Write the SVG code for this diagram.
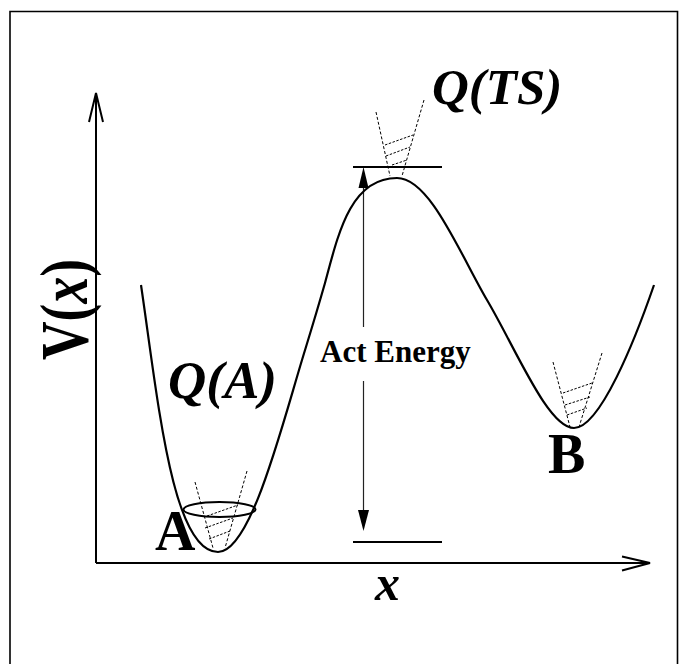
<svg xmlns="http://www.w3.org/2000/svg" width="687" height="664" viewBox="0 0 687 664">
<style>
.frame{fill:none;stroke:#000;stroke-width:1.6}
.axis{fill:none;stroke:#000;stroke-width:2}
.curve{fill:none;stroke:#000;stroke-width:2.2}
.dash{fill:none;stroke:#000;stroke-width:1;stroke-dasharray:3 2}
.hatch{fill:none;stroke:#000;stroke-width:1;stroke-dasharray:2.5 1.5}
.lvl{fill:none;stroke:#000;stroke-width:2}
.thin{fill:none;stroke:#222;stroke-width:1.2}
.head{fill:#000;stroke:none}
.lbl{font-family:"Liberation Serif","Times New Roman",serif;font-weight:bold;fill:#000}
.it{font-style:italic}
</style>
<rect width="687" height="664" fill="#fff"/>
<path class="frame" d="M10,664 V11.5 H677.5 V664"/>
<g id="connectors">
  <g id="y-axis">
    <line class="axis" x1="96" y1="94" x2="96" y2="563"/>
    <polyline class="axis" points="89,122 96,93 103,122"/>
  </g>
  <g id="x-axis">
    <line class="axis" x1="96" y1="563" x2="649" y2="563"/>
    <polyline class="axis" points="622,556.5 650,563 622,570.5"/>
  </g>
  <g id="act-arrow">
    <line class="thin" x1="363.5" y1="186" x2="363.5" y2="327"/>
    <line class="thin" x1="363.5" y1="381" x2="363.5" y2="512"/>
    <polygon class="head" points="363.5,167 358.5,188 368.5,188"/>
    <polygon class="head" points="363.5,531 358,510 369,510"/>
  </g>
</g>
<g id="potential">
  <path class="curve" d="M141,285 C158,400 172,552 218,552 C250,552 280,433 302,360 C309,337 315,318 325,283 C338,235 350,178 397,178 C430,178 460,254 487,300 C516,349 548,428 574,428 C600,428 635,340 654,285"/>
</g>
<g id="levels">
  <line class="lvl" x1="353" y1="167" x2="442" y2="167"/>
  <line class="lvl" x1="353" y1="542" x2="442" y2="542"/>
</g>
<g id="well-A">
  <ellipse cx="219.5" cy="509.5" rx="36" ry="7.5" fill="none" stroke="#000" stroke-width="2"/>
  <line class="dash" x1="195" y1="482" x2="213" y2="548"/>
  <line class="dash" x1="247" y1="471" x2="225" y2="548"/>
  <line class="hatch" x1="207" y1="516" x2="238" y2="505"/>
  <line class="hatch" x1="205" y1="528" x2="233" y2="518"/>
  <line class="hatch" x1="209" y1="539" x2="230" y2="531"/>
  <text class="lbl" x="155" y="550" font-size="56">A</text>
  <text class="lbl it" x="168" y="398" font-size="53">Q(A)</text>
</g>
<g id="well-TS">
  <line class="dash" x1="376" y1="112" x2="390" y2="176"/>
  <line class="dash" x1="424" y1="100" x2="402" y2="176"/>
  <line class="hatch" x1="385" y1="145" x2="413" y2="135"/>
  <line class="hatch" x1="386" y1="156" x2="410" y2="147"/>
  <line class="hatch" x1="392" y1="165" x2="407" y2="160"/>
  <text class="lbl it" x="432" y="104" font-size="51">Q(TS)</text>
</g>
<g id="well-B">
  <line class="dash" x1="553" y1="362" x2="570" y2="427"/>
  <line class="dash" x1="602" y1="353" x2="579" y2="427"/>
  <line class="hatch" x1="563" y1="393" x2="592" y2="383"/>
  <line class="hatch" x1="565" y1="405" x2="590" y2="397"/>
  <line class="hatch" x1="567" y1="415" x2="587" y2="408"/>
  <text class="lbl" x="548" y="473" font-size="56">B</text>
</g>
<g id="labels">
  <text class="lbl" x="320" y="362" font-size="31">Act Energy</text>
  <text class="lbl it" x="375" y="600" font-size="50">x</text>
  <text class="lbl" transform="translate(87,360) rotate(-90) scale(1,1.2)" font-size="56" textLength="101" lengthAdjust="spacingAndGlyphs">V(<tspan class="it">x</tspan>)</text>
</g>
</svg>
